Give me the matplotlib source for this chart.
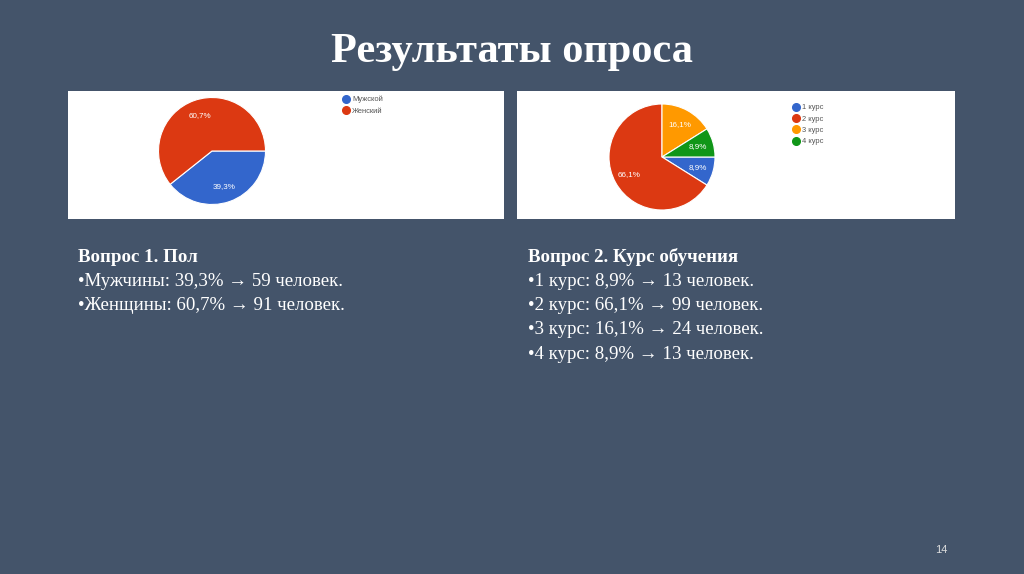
import matplotlib
matplotlib.use("Agg")
import matplotlib.pyplot as plt
from matplotlib.lines import Line2D
import numpy as np

# ---- data ----
gender_labels = ["Мужской", "Женский"]
gender_values = [39.3, 60.7]
gender_pct_labels = ["39,3%", "60,7%"]

course_labels = ["1 курс", "2 курс", "3 курс", "4 курс"]
course_values = [8.9, 66.1, 16.1, 8.9]
course_pct_labels = ["8,9%", "66,1%", "16,1%", "8,9%"]

title = "Результаты опроса"
q1_title = "Вопрос 1. Пол"
q1_lines = ["•Мужчины: 39,3% → 59 человек.",
            "•Женщины: 60,7% → 91 человек."]
q2_title = "Вопрос 2. Курс обучения"
q2_lines = ["•1 курс: 8,9% → 13 человек.",
            "•2 курс: 66,1% → 99 человек.",
            "•3 курс: 16,1% → 24 человек.",
            "•4 курс: 8,9% → 13 человек."]
page_number = "14"

# ---- style ----
BG = "#44546A"
G_COLORS = ["#3366CC", "#DC3912", "#FF9900", "#109618"]
SERIF = ["Liberation Serif", "DejaVu Serif"]
SANS = ["Liberation Sans", "DejaVu Sans"]

W, H = 1024, 574
fig = plt.figure(figsize=(W / 100, H / 100), dpi=100, facecolor=BG)

bg = fig.add_axes([0, 0, 1, 1])
bg.set_xlim(0, W)
bg.set_ylim(H, 0)
bg.axis("off")
bg.set_facecolor(BG)


def panel(x0, y0, x1, y1, values, pct_labels, labels, center, radius, legend_xy):
    w, h = x1 - x0, y1 - y0
    ax = fig.add_axes([x0 / W, (H - y1) / H, w / W, h / H])
    ax.pie(values, colors=G_COLORS[:len(values)], startangle=0,
           counterclock=False, center=(center[0] - x0, y1 - center[1]),
           radius=radius, frame=True,
           wedgeprops=dict(edgecolor="white", linewidth=0.8))
    theta = 0.0
    total = sum(values)
    for v, lab in zip(values, pct_labels):
        mid = theta - v / total * 360 / 2
        theta -= v / total * 360
        cx = center[0] - x0 + 0.7 * radius * np.cos(np.deg2rad(mid))
        cy = y1 - center[1] + 0.7 * radius * np.sin(np.deg2rad(mid))
        ax.text(cx, cy, lab, color="white", fontsize=5.8, family=SANS,
                ha="center", va="center")
    ax.set_xlim(0, w)
    ax.set_ylim(0, h)
    ax.set_aspect("auto")
    ax.set_facecolor("white")
    ax.set_xticks([])
    ax.set_yticks([])
    for s in ax.spines.values():
        s.set_visible(False)
    handles = [Line2D([], [], marker="o", linestyle="none", markersize=5.5,
                      markerfacecolor=c, markeredgecolor=c)
               for c in G_COLORS[:len(values)]]
    lx, ly = legend_xy
    ax.legend(handles, labels, loc="upper left",
              bbox_to_anchor=((lx - x0) / w, (y1 - ly) / h),
              frameon=False, handlelength=0.8, handletextpad=0.45,
              labelspacing=0.55, borderpad=0, borderaxespad=0,
              labelcolor="#555555", prop=dict(family=SANS, size=5.4))
    return ax


panel(68, 91, 504, 219, gender_values, gender_pct_labels, gender_labels,
      center=(212, 151), radius=53.5, legend_xy=(343, 96))
panel(517, 91, 955, 219, course_values, course_pct_labels, course_labels,
      center=(662, 157), radius=53, legend_xy=(793, 104))

# title
bg.text(512, 52, title, color="white", fontsize=30.5, fontweight="bold",
        family=SERIF, ha="center", va="center")

# question texts
fs = 13.6
bg.text(78, 257, q1_title, color="white", fontsize=fs, fontweight="bold",
        family=SERIF, ha="left", va="center")
for i, line in enumerate(q1_lines):
    bg.text(78, 281 + 24.5 * i, line, color="white", fontsize=fs,
            family=SERIF, ha="left", va="center")

bg.text(528, 257, q2_title, color="white", fontsize=fs, fontweight="bold",
        family=SERIF, ha="left", va="center")
for i, line in enumerate(q2_lines):
    bg.text(528, 281 + 24.5 * i, line, color="white", fontsize=fs,
            family=SERIF, ha="left", va="center")

bg.text(941, 550, page_number, color="#DDDDDD", fontsize=8,
        family=SANS, ha="center", va="center")

fig.savefig("out.png", dpi=100, facecolor=BG)
